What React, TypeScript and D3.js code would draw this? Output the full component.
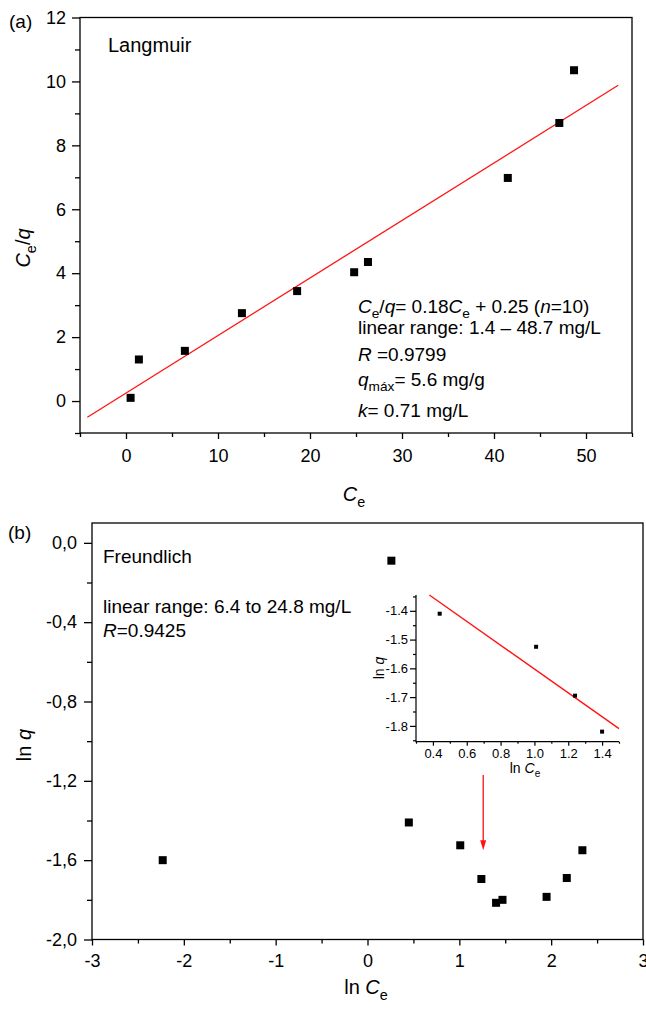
import React, { useRef, useEffect } from "react";
import * as d3 from "d3";

const W = 646;
const H = 1010;
const FONT = "'Liberation Sans', Arial, Helvetica, sans-serif";
const RED = "#ff1414";

// (a) Langmuir isotherm
const langCe = [0.5, 1.4, 6.4, 12.6, 18.6, 24.8, 26.3, 41.5, 47.1, 48.7];
const langCeQ = [0.1, 1.3, 1.57, 2.75, 3.44, 4.03, 4.35, 6.98, 8.7, 10.35];
const langSlope = 0.18;
const langIntercept = 0.25;
const langFitFrom = -4.2;
const langFitTo = 53.5;
const aXMajor = [0, 10, 20, 30, 40, 50];
const aXMinor = [-5, 5, 15, 25, 35, 45, 55];
const aYMajor = [0, 2, 4, 6, 8, 10, 12];
const aYMinor = [-1, 1, 3, 5, 7, 9, 11];

// (b) Freundlich isotherm
const freLnCe = [-2.23, 0.26, 0.45, 1.01, 1.24, 1.4, 1.47, 1.95, 2.17, 2.34];
const freLnQ = [-1.6, -0.09, -1.41, -1.525, -1.695, -1.815, -1.8, -1.785, -1.69, -1.55];
const bXMajor = [-3, -2, -1, 0, 1, 2, 3];
const bXMinor = [-2.5, -1.5, -0.5, 0.5, 1.5, 2.5];
const bYMajor = [0, -0.4, -0.8, -1.2, -1.6, -2.0];
const bYLabels = ["0,0", "-0,4", "-0,8", "-1,2", "-1,6", "-2,0"];
const bYMinor = [-0.2, -0.6, -1.0, -1.4, -1.8];

// (b) inset: linear range
const insetLnCe = [0.44, 1.01, 1.24, 1.4];
const insetLnQ = [-1.41, -1.525, -1.695, -1.82];
const insetSlope = -0.4145;
const insetIntercept = -1.188;
const insetFitFrom = 0.379;
const insetFitTo = 1.5;
const insetXMajor = [0.4, 0.6, 0.8, 1.0, 1.2, 1.4];
const insetXMinor = [0.3, 0.5, 0.7, 0.9, 1.1, 1.3, 1.5];
const insetYMajor = [-1.4, -1.5, -1.6, -1.7, -1.8];
const insetYMinor = [-1.35, -1.45, -1.55, -1.65, -1.75, -1.85];

// arrow pointing from inset to the data it zooms
const arrowLnCe = 1.26;
const arrowFrom = -1.17;
const arrowTo = -1.55;

type Part = { t: string; i?: boolean; sub?: boolean };

function rich(sel: any, parts: Part[], size: number) {
  let shifted = 0;
  parts.forEach((p) => {
    const ts = sel.append("tspan").text(p.t);
    const target = p.sub ? size * 0.28 : 0;
    if (target !== shifted) {
      ts.attr("dy", target - shifted);
      shifted = target;
    }
    if (p.sub) ts.attr("font-size", size * 0.72);
    if (p.i) ts.attr("font-style", "italic");
  });
}

function label(g: any, x: number, y: number, parts: Part[], size: number, anchor = "start", rotate = false) {
  const t = g
    .append("text")
    .attr("font-size", size)
    .attr("font-family", FONT)
    .attr("fill", "#000")
    .attr("text-anchor", anchor)
    .style("white-space", "pre");
  if (rotate) t.attr("transform", `translate(${x},${y}) rotate(-90)`);
  else t.attr("x", x).attr("y", y);
  rich(t, parts, size);
  return t;
}

function axes(g: any, x: any, y: any, o: any) {
  const [x0, x1] = x.range();
  const [y0, y1] = y.range();
  const style = (s: any) => {
    s.select(".domain").remove();
    s.selectAll("line").attr("stroke", "#000").attr("stroke-width", o.sw);
    s.selectAll("text").attr("font-size", o.fs).attr("font-family", FONT).attr("fill", "#000");
  };
  g.append("g")
    .attr("transform", `translate(0,${y0})`)
    .call(d3.axisBottom(x).tickValues(o.xMajor).tickSize(o.major).tickSizeOuter(0).tickPadding(o.xPad).tickFormat(o.xFmt))
    .call(style);
  g.append("g")
    .attr("transform", `translate(0,${y0})`)
    .call(d3.axisBottom(x).tickValues(o.xMinor).tickSize(o.minor).tickSizeOuter(0).tickFormat(() => ""))
    .call(style);
  g.append("g")
    .attr("transform", `translate(${x0},0)`)
    .call(d3.axisLeft(y).tickValues(o.yMajor).tickSize(o.major + 2).tickSizeOuter(0).tickPadding(o.yPad).tickFormat(o.yFmt))
    .call(style);
  g.append("g")
    .attr("transform", `translate(${x0},0)`)
    .call(d3.axisLeft(y).tickValues(o.yMinor).tickSize(o.minor + 1).tickSizeOuter(0).tickFormat(() => ""))
    .call(style);
  if (o.box) {
    g.append("rect")
      .attr("x", x0)
      .attr("y", y1)
      .attr("width", x1 - x0)
      .attr("height", y0 - y1)
      .attr("fill", "none")
      .attr("stroke", "#000")
      .attr("stroke-width", o.sw);
  } else {
    g.append("path")
      .attr("d", `M${x0},${y1}V${y0}H${x1}`)
      .attr("fill", "none")
      .attr("stroke", "#000")
      .attr("stroke-width", o.sw);
  }
}

function squares(g: any, xs: number[], ys: number[], x: any, y: any, size: number) {
  g.selectAll(null)
    .data(xs.map((v, i) => [v, ys[i]]))
    .join("rect")
    .attr("x", (d: number[]) => x(d[0]) - size / 2)
    .attr("y", (d: number[]) => y(d[1]) - size / 2)
    .attr("width", size)
    .attr("height", size)
    .attr("fill", "#000");
}

function fitLine(g: any, x: any, y: any, slope: number, icpt: number, from: number, to: number, sw: number) {
  const pts = [from, to].map((v) => [v, slope * v + icpt]);
  g.append("path")
    .attr("d", d3.line().x((d: any) => x(d[0])).y((d: any) => y(d[1]))(pts as any))
    .attr("stroke", RED)
    .attr("stroke-width", sw)
    .attr("fill", "none");
}

const hyphen = (f: (n: number) => string) => (d: number) => f(d).replace("\u2212", "-");

function Isotherms() {
  const ref = useRef<SVGSVGElement>(null);

  useEffect(() => {
    const svg = d3.select(ref.current);
    svg.selectAll("*").remove();
    svg.append("rect").attr("width", W).attr("height", H).attr("fill", "#fff");

    // ---------- (a) Langmuir ----------
    const ga = svg.append("g");
    const xa = d3.scaleLinear().domain([-5, 55]).range([80, 632]);
    const ya = d3.scaleLinear().domain([-1, 12]).range([433, 17.5]);
    axes(ga, xa, ya, {
      xMajor: aXMajor, xMinor: aXMinor, yMajor: aYMajor, yMinor: aYMinor,
      xFmt: d3.format("d"), yFmt: d3.format("d"),
      major: 6, minor: 4, xPad: 10, yPad: 6, fs: 18, sw: 1.3, box: true,
    });
    fitLine(ga, xa, ya, langSlope, langIntercept, langFitFrom, langFitTo, 1.3);
    squares(ga, langCe, langCeQ, xa, ya, 8);

    label(ga, 9, 28, [{ t: "(a)" }], 19);
    label(ga, 108, 51.5, [{ t: "Langmuir" }], 20);
    label(ga, 354, 501, [{ t: "C", i: true }, { t: "e", sub: true }], 20, "middle");
    label(ga, 30, 248, [{ t: "C", i: true }, { t: "e", sub: true }, { t: "/" }, { t: "q", i: true }], 20, "middle", true);

    const ax0 = 358;
    label(ga, ax0, 313, [
      { t: "C", i: true }, { t: "e", sub: true }, { t: "/" }, { t: "q", i: true },
      { t: "= 0.18" }, { t: "C", i: true }, { t: "e", sub: true }, { t: " + 0.25 (" },
      { t: "n", i: true }, { t: "=10)" },
    ], 19);
    label(ga, ax0, 334, [{ t: "linear range: 1.4 \u2013 48.7 mg/L" }], 19);
    label(ga, ax0, 361, [{ t: "R", i: true }, { t: " =0.9799" }], 19);
    label(ga, ax0, 386, [{ t: "q", i: true }, { t: "m\u00e1x", sub: true }, { t: "= 5.6 mg/g" }], 19);
    label(ga, ax0, 417, [{ t: "k", i: true }, { t: "= 0.71 mg/L" }], 19);

    // ---------- (b) Freundlich ----------
    const gb = svg.append("g");
    const xb = d3.scaleLinear().domain([-3, 3]).range([92, 643]);
    const yb = d3.scaleLinear().domain([-2, 0.1]).range([939.5, 523]);
    axes(gb, xb, yb, {
      xMajor: bXMajor, xMinor: bXMinor, yMajor: bYMajor, yMinor: bYMinor,
      xFmt: hyphen(d3.format("d")), yFmt: (d: number) => bYLabels[bYMajor.indexOf(d)],
      major: 6, minor: 4, xPad: 9, yPad: 7, fs: 18, sw: 1.3, box: true,
    });
    squares(gb, freLnCe, freLnQ, xb, yb, 8);

    label(gb, 8, 539, [{ t: "(b)" }], 19);
    label(gb, 103, 563, [{ t: "Freundlich" }], 19);
    label(gb, 103, 613, [{ t: "linear range: 6.4 to 24.8 mg/L" }], 19);
    label(gb, 103, 637, [{ t: "R", i: true }, { t: "=0.9425" }], 19);
    label(gb, 366, 994, [{ t: "ln " }, { t: "C", i: true }, { t: "e", sub: true }], 20, "middle");
    label(gb, 31, 745, [{ t: "ln " }, { t: "q", i: true }], 20, "middle", true);

    // arrow
    const axp = xb(arrowLnCe);
    const tip = yb(arrowTo);
    gb.append("line")
      .attr("x1", axp).attr("x2", axp)
      .attr("y1", yb(arrowFrom)).attr("y2", tip - 8)
      .attr("stroke", RED).attr("stroke-width", 1.3);
    gb.append("path")
      .attr("d", `M${axp - 3},${tip - 10}L${axp + 3},${tip - 10}L${axp},${tip}Z`)
      .attr("fill", RED);

    // inset
    const gi = svg.append("g");
    const xi = d3.scaleLinear().domain([0.3, 1.5]).range([416, 619]);
    const yi = d3.scaleLinear().domain([-1.855, -1.345]).range([741.7, 595]);
    axes(gi, xi, yi, {
      xMajor: insetXMajor, xMinor: insetXMinor, yMajor: insetYMajor, yMinor: insetYMinor,
      xFmt: d3.format(".1f"), yFmt: hyphen(d3.format(".1f")),
      major: 4, minor: 2, xPad: 3, yPad: 2, fs: 13, sw: 1.2, box: false,
    });
    fitLine(gi, xi, yi, insetSlope, insetIntercept, insetFitFrom, insetFitTo, 1.4);
    squares(gi, insetLnCe, insetLnQ, xi, yi, 4);
    label(gi, 525, 773, [{ t: "ln " }, { t: "C", i: true }, { t: "e", sub: true }], 14, "middle");
    label(gi, 384, 668, [{ t: "ln " }, { t: "q", i: true }], 14, "middle", true);
  }, []);

  return <svg ref={ref} width={W} height={H} viewBox={`0 0 ${W} ${H}`} style={{ display: "block" }} />;
}

export default function App() {
  return (
    <div style={{ position: "absolute", left: 0, top: 0, width: W, height: H }}>
      <Isotherms />
    </div>
  );
}
